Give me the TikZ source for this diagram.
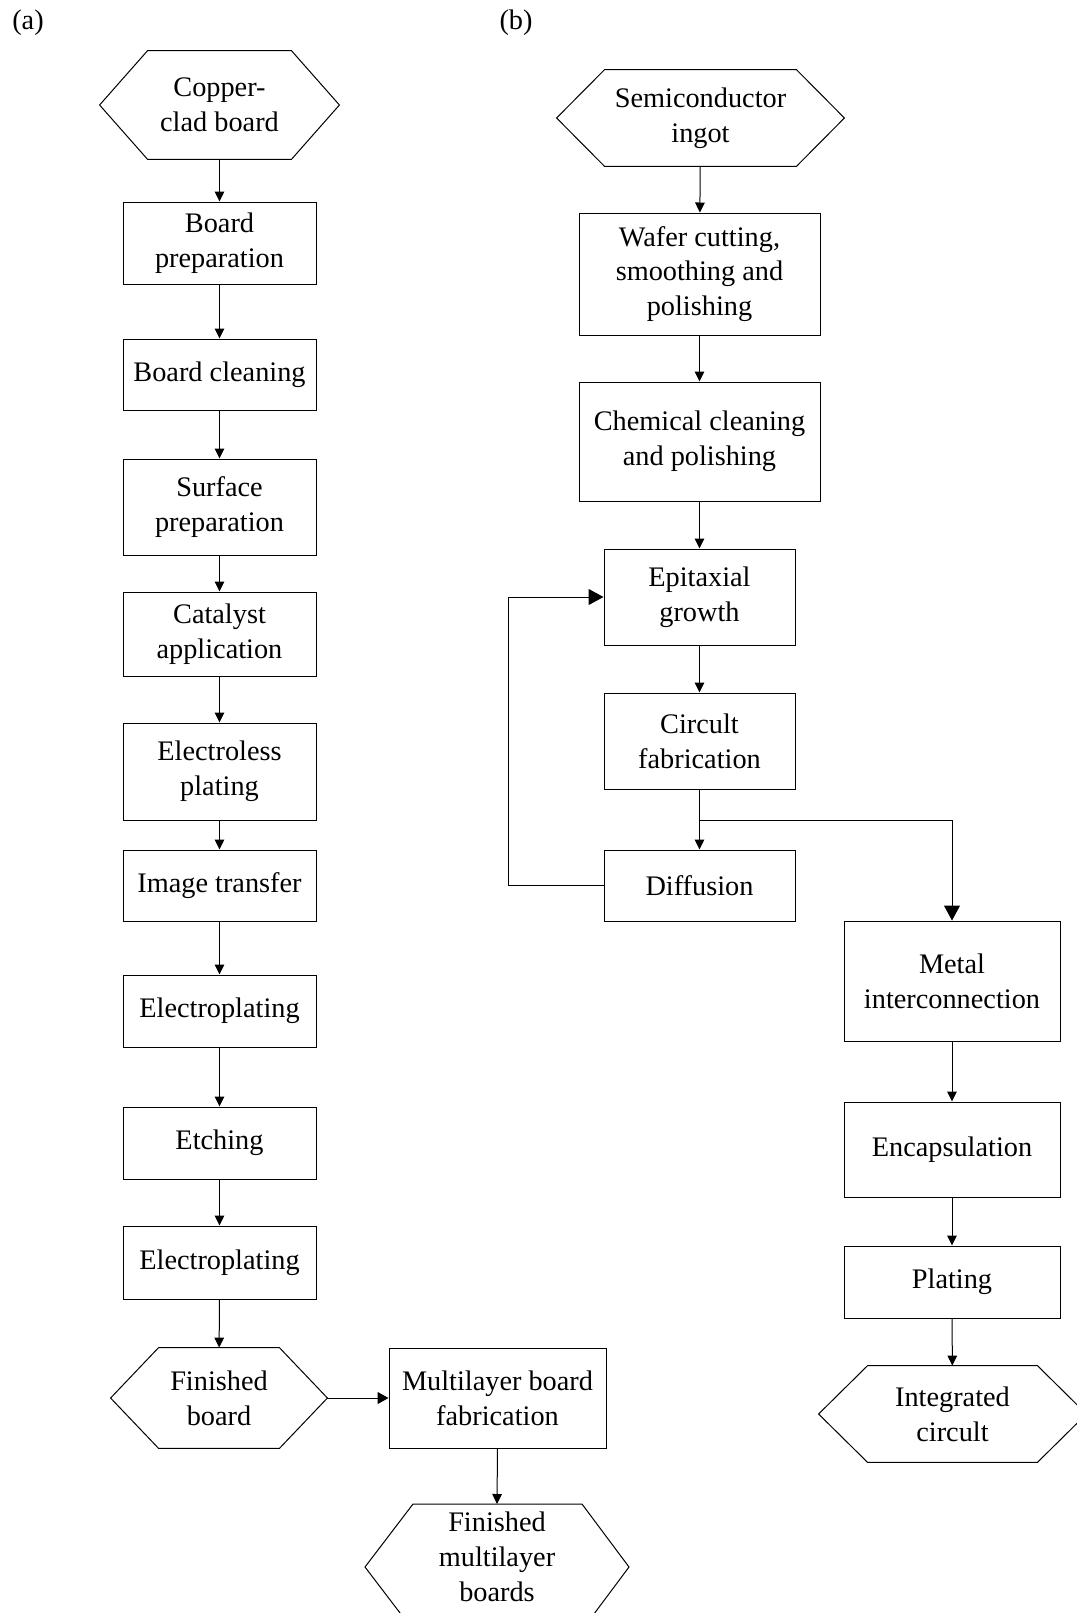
\documentclass[tikz,border=0pt]{standalone}
\usepackage{fontspec}
\setmainfont{Liberation Serif}
\usetikzlibrary{arrows.meta,calc}
\tikzset{
  every node/.style={font=\fontsize{14.15}{17.4}\selectfont, align=center, inner sep=0pt},
  boxnode/.style={draw, line width=0.5pt, rectangle},
  hexnode/.style={rectangle},
  conn/.style={line width=0.5pt, -{Triangle[length=5pt,width=4.8pt]}},
  bigconn/.style={line width=0.5pt, -{Triangle[length=7.5pt,width=8pt]}},
  midconn/.style={line width=0.5pt, -{Triangle[length=5.5pt,width=6pt]}},
  plain/.style={line width=0.5pt},
}
\newcommand{\hexdraw}[2]{%
  \draw[plain] (#1.west) -- ($(#1.north west)+(#2,0)$) -- ($(#1.north east)+(-#2,0)$) -- (#1.east) -- ($(#1.south east)+(-#2,0)$) -- ($(#1.south west)+(#2,0)$) -- cycle;}
\begin{document}
\begin{tikzpicture}[x=0.5pt,y=-0.5pt]
\useasboundingbox (0,0) rectangle (1077,1613);
% labels
\node (la) at (28,23) {(a)};
\node (lb) at (516,23) {(b)};
% (a) column
\node[hexnode, minimum width=239*0.5pt, minimum height=108*0.5pt] (cc) at (219.5,105) {Copper-\\clad board};
\hexdraw{cc}{48}
\node[boxnode, minimum width=193*0.5pt, minimum height=82*0.5pt] (bprep) at (219.5,243) {Board\\preparation};
\node[boxnode, minimum width=193*0.5pt, minimum height=71*0.5pt] (bclean) at (219.5,374.5) {Board cleaning};
\node[boxnode, minimum width=193*0.5pt, minimum height=96*0.5pt] (surf) at (219.5,507) {Surface\\preparation};
\node[boxnode, minimum width=193*0.5pt, minimum height=84*0.5pt] (cat) at (219.5,634) {Catalyst\\application};
\node[boxnode, minimum width=193*0.5pt, minimum height=97*0.5pt] (eless) at (219.5,771.5) {Electroless\\plating};
\node[boxnode, minimum width=193*0.5pt, minimum height=71*0.5pt] (img) at (219.5,885.5) {Image transfer};
\node[boxnode, minimum width=193*0.5pt, minimum height=72*0.5pt] (ep1) at (219.5,1011) {Electroplating};
\node[boxnode, minimum width=193*0.5pt, minimum height=72*0.5pt] (etch) at (219.5,1143) {Etching};
\node[boxnode, minimum width=193*0.5pt, minimum height=73*0.5pt] (ep2) at (219.5,1262.5) {Electroplating};
\node[hexnode, minimum width=216*0.5pt, minimum height=100*0.5pt] (fb) at (219,1398) {Finished\\board};
\hexdraw{fb}{48}
\node[boxnode, minimum width=217*0.5pt, minimum height=100*0.5pt] (multi) at (497.5,1398) {Multilayer board\\fabrication};
% finished multilayer boards: hexagon clipped by the bottom edge
\node (fmb) at (497,1557) {Finished\\multilayer\\boards};
\coordinate (fmbtop) at (497,1504);
\draw[plain] ($(fmb.center)+(-132,10)$) -- ($(fmb.center)+(-84,-53)$) -- ($(fmb.center)+(85,-53)$) -- ($(fmb.center)+(132,10)$) -- ($(fmb.center)+(85,73)$) -- ($(fmb.center)+(-84,73)$) -- cycle;
\draw[conn] (cc) -- (bprep);
\draw[conn] (bprep) -- (bclean);
\draw[conn] (bclean) -- (surf);
\draw[conn] (surf) -- (cat);
\draw[conn] (cat) -- (eless);
\draw[conn] (eless) -- (img);
\draw[conn] (img) -- (ep1);
\draw[conn] (ep1) -- (etch);
\draw[conn] (etch) -- (ep2);
\draw[conn] (ep2) -- (fb);
\draw[midconn] (fb) -- (multi);
\draw[conn] (multi.south) -- (fmbtop);
% (b) column
\node[hexnode, minimum width=287*0.5pt, minimum height=96*0.5pt] (semi) at (700.5,118) {Semiconductor\\ingot};
\hexdraw{semi}{48}
\node[boxnode, minimum width=241*0.5pt, minimum height=122*0.5pt] (wafer) at (699.5,274) {Wafer cutting,\\smoothing and\\polishing};
\node[boxnode, minimum width=241*0.5pt, minimum height=119*0.5pt] (chem) at (699.5,441.5) {Chemical cleaning\\and polishing};
\node[boxnode, minimum width=191*0.5pt, minimum height=96*0.5pt] (epi) at (699.5,597) {Epitaxial\\growth};
\node[boxnode, minimum width=191*0.5pt, minimum height=96*0.5pt] (circ) at (699.5,741) {Circult\\fabrication};
\node[boxnode, minimum width=191*0.5pt, minimum height=71*0.5pt] (diff) at (699.5,885.5) {Diffusion};
\node[boxnode, minimum width=216*0.5pt, minimum height=120*0.5pt] (metal) at (952,981) {Metal\\interconnection};
\node[boxnode, minimum width=216*0.5pt, minimum height=95*0.5pt] (encap) at (952,1149.5) {Encapsulation};
\node[boxnode, minimum width=216*0.5pt, minimum height=72*0.5pt] (plat) at (952,1282) {Plating};
\node[hexnode, minimum width=267*0.5pt, minimum height=96*0.5pt] (ic) at (952.5,1414) {Integrated\\circult};
\hexdraw{ic}{49}
\coordinate (br) at (699.5,820);
\coordinate (fbl) at (508,885.5);
\draw[conn] (semi) -- (wafer);
\draw[conn] (wafer) -- (chem);
\draw[conn] (chem) -- (epi);
\draw[conn] (epi) -- (circ);
\draw[conn] (circ) -- (diff);
\draw[bigconn] (br) -| (metal.north);
\draw[bigconn] (diff.west) -- (fbl) |- (epi.west);
\draw[conn] (metal) -- (encap);
\draw[conn] (encap) -- (plat);
\draw[conn] (plat) -- (ic);
\end{tikzpicture}
\end{document}
